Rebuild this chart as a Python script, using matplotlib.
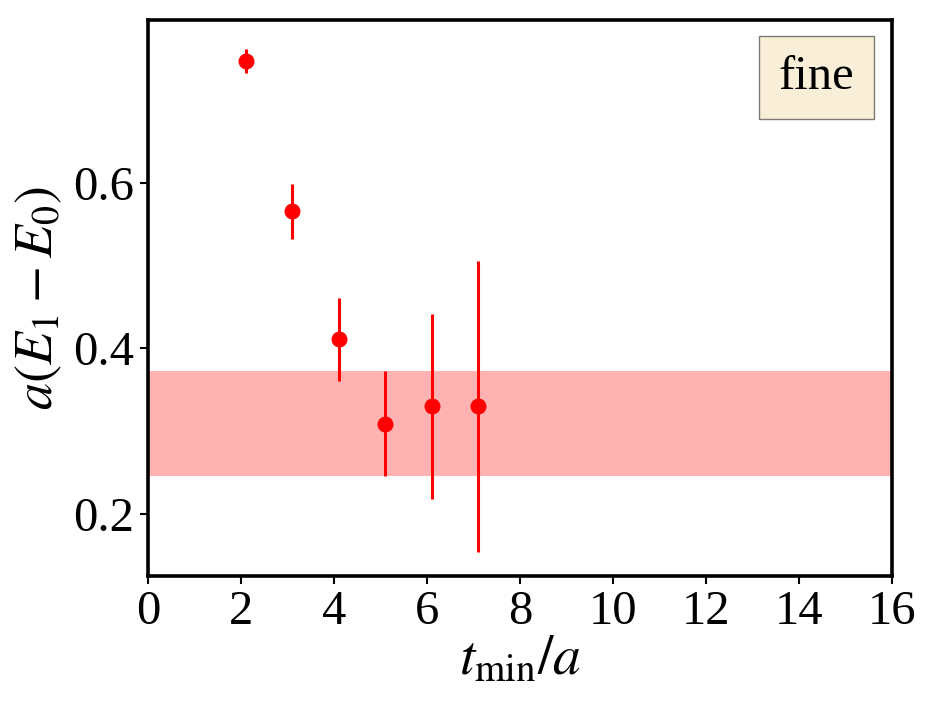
import numpy as np
import matplotlib
matplotlib.use("Agg")
from matplotlib import pyplot as plt

# data
tmin = [2.1, 3.1, 4.1, 5.1, 6.1, 7.1]
dE = [0.748, 0.566, 0.411, 0.309, 0.330, 0.330]
dE_err = [0.015, 0.033, 0.050, 0.064, 0.112, 0.176]
band_lo = 0.245
band_hi = 0.373

plt.rcParams['font.family'] = ['Liberation Serif', 'DejaVu Serif']
plt.rcParams['mathtext.fontset'] = 'stix'

fig = plt.figure(figsize=(9.3, 7.08), dpi=100)
ax = fig.add_axes([0.159, 0.186, 0.8, 0.786])

ax.axhspan(band_lo, band_hi, color='red', alpha=0.3, lw=0)
ax.errorbar(tmin, dE, yerr=dE_err, fmt='o', color='red', ms=10.5, elinewidth=2.2, capsize=0)

ax.set_xlim(0, 16)
ax.set_ylim(0.124, 0.798)
ax.set_xticks(np.arange(0, 17, 2))
ax.set_yticks([0.2, 0.4, 0.6])
ax.tick_params(labelsize=35, width=1.5, length=6, pad=4)
for s in ax.spines.values():
  s.set_linewidth(2.6)

ax.set_xlabel(r'$t_{\mathrm{min}}/a$', fontsize=40, labelpad=0)
ax.set_ylabel(r'$a(E_1-E_0)$', fontsize=39, labelpad=6)

ax.text(0.899, 0.897, 'fine', transform=ax.transAxes, fontsize=35, ha='center', va='center',
        bbox=dict(boxstyle='square,pad=0.4', facecolor='wheat', edgecolor='black', alpha=0.5))

fig.savefig('out.png', dpi=100)
